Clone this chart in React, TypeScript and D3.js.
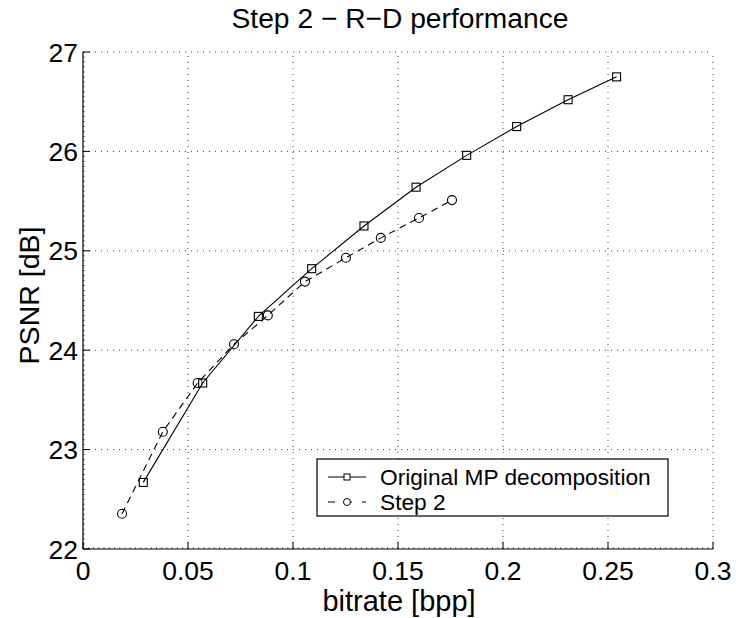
import React from "react";
import * as d3 from "d3";

const origX = [0.0287, 0.057, 0.0835, 0.1089, 0.1338, 0.1586, 0.1827, 0.2065, 0.231, 0.2541];
const origY = [22.67, 23.67, 24.34, 24.82, 25.25, 25.64, 25.96, 26.25, 26.52, 26.75];
const step2X = [0.0186, 0.038, 0.0546, 0.0719, 0.088, 0.1057, 0.1252, 0.1418, 0.16, 0.1757];
const step2Y = [22.355, 23.18, 23.67, 24.06, 24.35, 24.69, 24.93, 25.13, 25.33, 25.51];
const xTicks = [0, 0.05, 0.1, 0.15, 0.2, 0.25, 0.3];
const yTicks = [22, 23, 24, 25, 26, 27];
const seriesNames = ["Original MP decomposition", "Step 2"];

const FONT = "'Liberation Sans', Arial, Helvetica, sans-serif";

export default function App() {
  const W = 736, H = 618;
  const L = 83, R = 713, T = 52, B = 549;
  const x = d3.scaleLinear().domain([0, 0.3]).range([L, R]);
  const y = d3.scaleLinear().domain([22, 27]).range([B, T]);
  const origPts: [number, number][] = origX.map((v, i) => [x(v), y(origY[i])]);
  const stepPts: [number, number][] = step2X.map((v, i) => [x(v), y(step2Y[i])]);
  const lineGen = d3.line();

  const xMinor = d3.range(0, 0.3 + 1e-9, 0.0025);
  const yMinor = d3.range(22, 27 + 1e-9, 0.05);

  return (
    <svg width={W} height={H} style={{ position: "absolute", left: 0, top: 0, background: "#fff" }} fontFamily={FONT}>
      <rect x={0} y={0} width={W} height={H} fill="#fff" />
      {/* grid */}
      {xTicks.slice(1).map((t) => (
        <line key={"gx" + t} x1={x(t)} x2={x(t)} y1={B} y2={T} stroke="#444" strokeWidth={1} strokeDasharray="1 5" />
      ))}
      {yTicks.slice(1).map((t) => (
        <line key={"gy" + t} x1={L} x2={R} y1={y(t)} y2={y(t)} stroke="#444" strokeWidth={1} strokeDasharray="1 5" />
      ))}
      {/* minor ticks */}
      {xMinor.map((t, i) => (
        <line key={"mx" + i} x1={x(t)} x2={x(t)} y1={B} y2={B - 2} stroke="#666" strokeWidth={0.8} />
      ))}
      {yMinor.map((t, i) => (
        <line key={"my" + i} x1={L} x2={L + 2} y1={y(t)} y2={y(t)} stroke="#666" strokeWidth={0.8} />
      ))}
      {/* axes */}
      <line x1={L} x2={R} y1={B} y2={B} stroke="#000" strokeWidth={1.2} />
      <line x1={L} x2={L} y1={B} y2={T} stroke="#000" strokeWidth={1.2} />
      {xTicks.map((t) => (
        <line key={"tx" + t} x1={x(t)} x2={x(t)} y1={B} y2={B - 7} stroke="#000" strokeWidth={1} />
      ))}
      {yTicks.map((t) => (
        <line key={"ty" + t} x1={L} x2={L + 7} y1={y(t)} y2={y(t)} stroke="#000" strokeWidth={1} />
      ))}
      {/* tick labels */}
      {xTicks.map((t) => (
        <text key={"lx" + t} x={x(t)} y={580} textAnchor="middle" fontSize={26.5} fill="#000">
          {String(t)}
        </text>
      ))}
      {yTicks.map((t) => (
        <text key={"ly" + t} x={L - 5} y={y(t) + 9.5} textAnchor="end" fontSize={26.5} fill="#000">
          {String(t)}
        </text>
      ))}
      {/* title and labels */}
      <text x={400} y={28} textAnchor="middle" fontSize={28.2} fill="#000">
        Step 2 − R−D performance
      </text>
      <text x={399} y={611} textAnchor="middle" fontSize={29} fill="#000">
        bitrate [bpp]
      </text>
      <text transform={`translate(39,${(T + B) / 2 - 5}) rotate(-90)`} textAnchor="middle" fontSize={28.5} fill="#000">
        PSNR [dB]
      </text>
      {/* series */}
      <path d={lineGen(origPts) || ""} fill="none" stroke="#000" strokeWidth={1.1} />
      <path d={lineGen(stepPts) || ""} fill="none" stroke="#000" strokeWidth={1.1} strokeDasharray="7 5" />
      {origPts.map(([px, py], i) => (
        <rect key={"sq" + i} x={px - 4} y={py - 4} width={8} height={8} fill="none" stroke="#000" strokeWidth={1.1} />
      ))}
      {stepPts.map(([px, py], i) => (
        <circle key={"ci" + i} cx={px} cy={py} r={4.5} fill="none" stroke="#000" strokeWidth={1.1} />
      ))}
      {/* legend */}
      <rect x={317} y={459} width={351} height={57} fill="#fff" stroke="#000" strokeWidth={1.2} />
      <line x1={328} x2={366} y1={477} y2={477} stroke="#000" strokeWidth={1.1} />
      <rect x={344} y={474} width={6} height={6} fill="#fff" stroke="#000" strokeWidth={1} />
      <line x1={328} x2={366} y1={502} y2={502} stroke="#000" strokeWidth={1.1} strokeDasharray="7 10" />
      <circle cx={347} cy={502} r={3.5} fill="#fff" stroke="#000" strokeWidth={1} />
      <text x={380} y={485} fontSize={22.7} fill="#000">{seriesNames[0]}</text>
      <text x={380} y={510} fontSize={22.7} fill="#000">{seriesNames[1]}</text>
    </svg>
  );
}
